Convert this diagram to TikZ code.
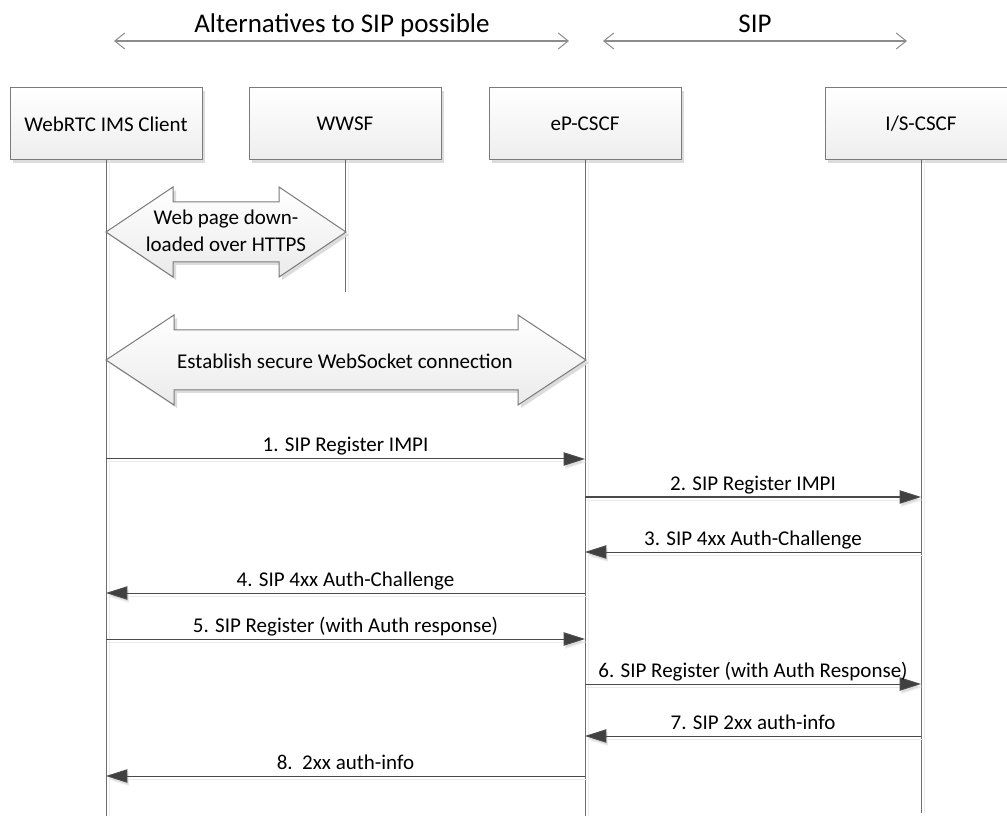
\documentclass[tikz,border=0pt]{standalone}
\usepackage{fontspec}
\setmainfont{Carlito}
\usetikzlibrary{arrows.meta,calc,shadows}
\definecolor{boxgray}{HTML}{7A7A7A}
\definecolor{linegray}{HTML}{6E6E6E}
\definecolor{msggray}{HTML}{4A4A4A}
\definecolor{tipgray}{HTML}{404040}
\definecolor{shadowgray}{HTML}{DCDCDC}
\definecolor{hdrgray}{HTML}{8C8C8C}
\newcommand\msgline[3]{%
  \draw[msgshadow] (#1) -- (#2);
  \draw[msg] (#1) -- node[lbl]{#3} (#2);}
\newcommand\lifeln[2]{%
  \draw[lifeshadow] (#1) -- (#2);
  \draw[lifeline] (#1) -- (#2);}
\begin{document}
\begin{tikzpicture}[x=0.75pt,y=-0.75pt,
  entity/.style={draw=boxgray, line width=0.75pt, top color=white, bottom color=black!7,
    minimum width=144pt, minimum height=54pt, inner sep=0pt,
    font=\fontsize{15.75}{19}\selectfont,
    drop shadow={shadow xshift=2.25pt, shadow yshift=-2.25pt, fill=shadowgray, opacity=1}},
  lifeline/.style={draw=linegray, line width=0.75pt},
  lifeshadow/.style={draw=black!7, line width=0.75pt, transform canvas={shift={(3,0)}}},
  msg/.style={draw=msggray, line width=0.75pt, -{Triangle[length=16pt,width=10pt,fill=tipgray]}},
  msgshadow/.style={draw=black!8, line width=0.75pt, -{Triangle[length=16pt,width=10pt,fill=shadowgray]},
    transform canvas={shift={(1.5,3)}}},
  lbl/.style={anchor=base, yshift=5.25pt, inner sep=0pt, font=\fontsize{15.75}{19}\selectfont},
  hdr/.style={draw=hdrgray, line width=1.5pt,
    {Straight Barb[length=7.5pt,width=12pt,line width=0.75pt]}-{Straight Barb[length=7.5pt,width=12pt,line width=0.75pt]}},
  hdrtxt/.style={anchor=base, inner sep=0pt, font=\fontsize{20.25}{24}\selectfont},
  blockarrow/.style={draw=boxgray, line width=0.75pt, top color=white, bottom color=black!8,
    drop shadow={shadow xshift=2.25pt, shadow yshift=-2.25pt, fill=shadowgray, opacity=1}},
  blocktxt/.style={inner sep=0pt, align=center, font=\fontsize{15.75}{20.25}\selectfont}
]
\path[use as bounding box] (0,0) rectangle (1007,816);
\clip (0,0) rectangle (1007,816);
\fill[white] (0,0) rectangle (1007,816);

% header
\coordinate (h1l) at (114,41);
\coordinate (h1r) at (569,41);
\coordinate (h2l) at (603,41);
\coordinate (h2r) at (907,41);
\draw[hdr] (h1l) -- (h1r);
\draw[hdr] (h2l) -- (h2r);
\node[hdrtxt] (althdr) at (342,33) {Alternatives to SIP possible};
\node[hdrtxt] (siphdr) at (755,33) {SIP};

% entities
\node[entity] (client) at (106,124) {WebRTC IMS Client};
\node[entity] (wwsf) at (345,124) {WWSF};
\node[entity] (pcscf) at (585,124) {eP-CSCF};
\node[entity] (scscf) at (921,124) {I/S-CSCF};

% lifelines
\coordinate (clientend) at (client.south |- 0,816);
\coordinate (wwsfend) at (wwsf.south |- 0,292);
\coordinate (pcscfend) at (pcscf.south |- 0,816);
\coordinate (scscfend) at (scscf.south |- 0,813);
\lifeln{client.south}{clientend}
\lifeln{wwsf.south}{wwsfend}
\lifeln{pcscf.south}{pcscfend}
\lifeln{scscf.south}{scscfend}

% block arrows
\draw[blockarrow] (106,232) -- (173,187) -- (173,202) -- (279,202) -- (279,187) -- (346,232)
  -- (279,277) -- (279,262) -- (173,262) -- (173,277) -- cycle;
\node[blocktxt] (webpage) at (226,231) {Web page down-\\loaded over HTTPS};
\draw[blockarrow] (106,360) -- (174,315) -- (174,330) -- (518,330) -- (518,315) -- (586,360)
  -- (518,405) -- (518,390) -- (174,390) -- (174,405) -- cycle;
\node[blocktxt] (websock) at (345,361) {Establish secure WebSocket connection};

% messages
\foreach \n/\y in {1/459,2/497,3/552,4/593,5/639,6/684,7/736,8/776}{
  \coordinate (c\n) at (client.south |- 0,\y);
  \coordinate (p\n) at (pcscf.south |- 0,\y);
  \coordinate (s\n) at (scscf.south |- 0,\y);
}
\msgline{c1}{p1}{1. SIP Register IMPI}
\msgline{p2}{s2}{2. SIP Register IMPI}
\msgline{s3}{p3}{3. SIP 4xx Auth-Challenge}
\msgline{p4}{c4}{4. SIP 4xx Auth-Challenge}
\msgline{c5}{p5}{5. SIP Register (with Auth response)}
\msgline{p6}{s6}{6. SIP Register (with Auth Response)}
\msgline{s7}{p7}{7. SIP 2xx auth-info}
\msgline{p8}{c8}{8.\ \ 2xx auth-info}
\end{tikzpicture}
\end{document}
